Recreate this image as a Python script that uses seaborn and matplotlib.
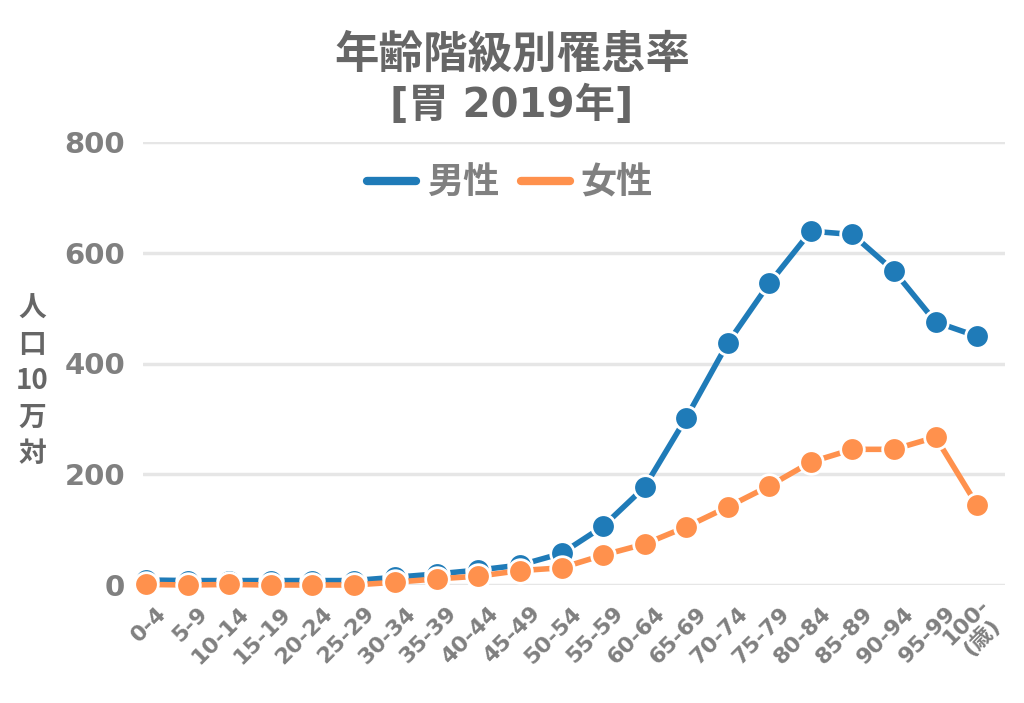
import numpy as np
import pandas as pd
import matplotlib
matplotlib.use("Agg")
import matplotlib.pyplot as plt
import matplotlib.transforms as mtransforms
import seaborn as sns

age_groups = ["0-4", "5-9", "10-14", "15-19", "20-24", "25-29", "30-34", "35-39",
              "40-44", "45-49", "50-54", "55-59", "60-64", "65-69", "70-74", "75-79",
              "80-84", "85-89", "90-94", "95-99", "100-\n(歳)"]
male = [9, 8, 8, 8, 8, 8, 14, 20, 27, 36, 57, 106, 177, 302, 437, 545, 639, 633, 567, 475, 449]
female = [1, 0, 1, 0, 0, 0, 5, 11, 16, 26, 31, 54, 74, 105, 141, 179, 222, 245, 245, 267, 144]
series_names = ["男性", "女性"]
colors = ["#1f7bb8", "#ff914d"]
y_ticks = [0, 200, 400, 600, 800]

sns.set_theme(style="white")
plt.rcParams['font.family'] = ['Noto Sans CJK JP', 'DejaVu Sans']
LATIN = ['DejaVu Sans', 'Noto Sans CJK JP']

df = pd.DataFrame({
    "idx": list(range(len(age_groups))) * 2,
    "value": male + female,
    "sex": [series_names[0]] * len(male) + [series_names[1]] * len(female),
})

fig = plt.figure(figsize=(10.24, 7.03), dpi=100)
ax = fig.add_axes([143 / 1024, 1 - 585 / 703, 862 / 1024, 443 / 703])

sns.lineplot(data=df, x="idx", y="value", hue="sex", palette=colors,
             marker="o", markersize=17, markeredgecolor="white", markeredgewidth=2,
             linewidth=4, ax=ax, clip_on=False, zorder=3)

ax.set_xlim(-0.072, 20.67)
ax.set_ylim(0, 800)
ax.set_yticks(y_ticks)
ax.set_yticklabels([str(v) for v in y_ticks], fontsize=21, fontweight="bold",
                   color="#808080", family=LATIN)
ax.set_xticks(range(len(age_groups)))
ax.set_xticklabels([])
ax.tick_params(axis="y", length=0, pad=13)
ax.tick_params(axis="x", length=0)
ax.grid(axis="y", color="#e6e6e6", linewidth=2.5)
ax.set_axisbelow(True)
for s in ax.spines.values():
    s.set_visible(False)
ax.set_xlabel("")
ax.set_ylabel("")

# rotated category labels, anchored at their right end just right of each tick
offset = mtransforms.ScaledTranslation(0.17, -0.25, fig.dpi_scale_trans)
for i, lab in enumerate(age_groups):
    ax.text(i, 0, lab, transform=ax.get_xaxis_transform() + offset,
            rotation=45, rotation_mode="anchor", ha="right", va="center",
            multialignment="center", fontsize=16, fontweight="bold",
            color="#808080", family=LATIN, linespacing=1.05)

leg = ax.legend(loc="center", bbox_to_anchor=(510 / 1024, 1 - 183 / 703),
                bbox_transform=fig.transFigure, ncol=2,
                frameon=False, fontsize=26, handlelength=1.35, columnspacing=0.6,
                handletextpad=0.3)
for t in leg.get_texts():
    t.set_color("#808080")
    t.set_fontweight("bold")
for h in leg.legend_handles:
    h.set_marker("")
    h.set_linewidth(6)
    h.set_solid_capstyle("round")

fig.text(0.5, 1 - 55 / 703, "年齢階級別罹患率", ha="center", va="center",
         fontsize=32, fontweight="bold", color="#666666")
fig.text(0.5, 1 - 106 / 703, "[胃 2019年]", ha="center", va="center",
         fontsize=29, fontweight="bold", color="#666666", family=LATIN)
fig.text(32 / 1024, 1 - 381 / 703, "人\n口\n10\n万\n対", ha="center", va="center",
         fontsize=20, fontweight="bold", color="#666666", linespacing=1.38,
         family=['Noto Sans CJK JP', 'DejaVu Sans'])

fig.savefig("out.png", dpi=100)
